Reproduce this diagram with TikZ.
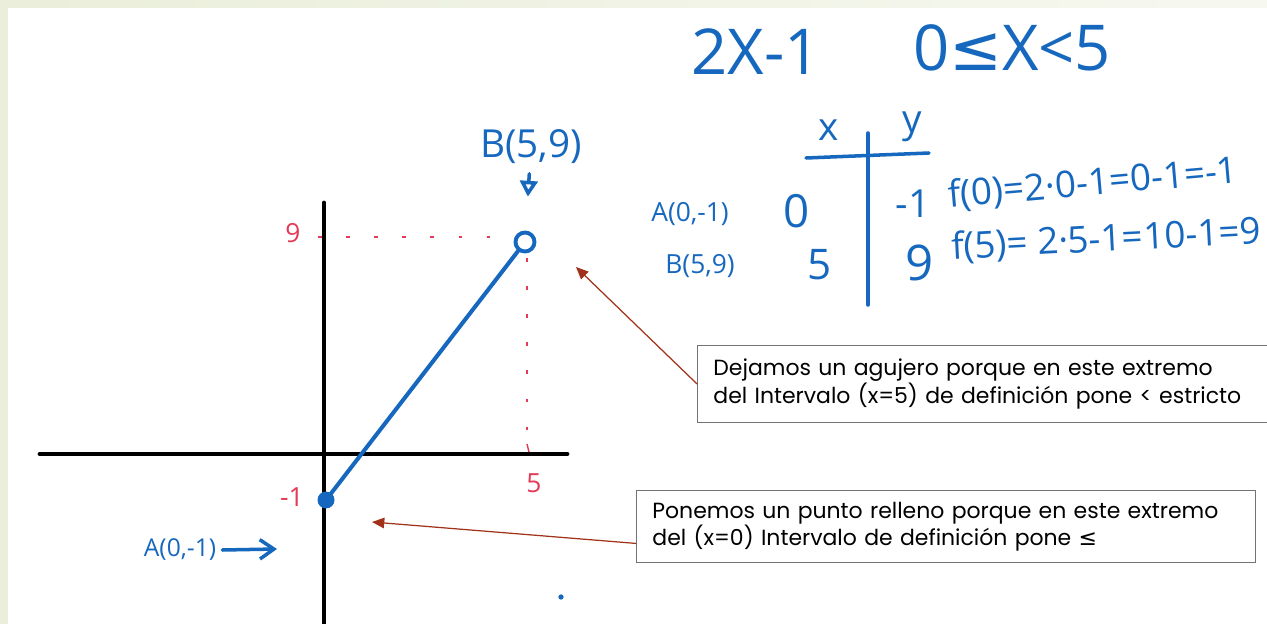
\documentclass[tikz,border=0pt]{standalone}
\usepackage{fontspec}
\setmainfont{Poppins}
\newfontfamily\hand{Open Sans}
\newfontfamily\symb{DejaVu Sans}
\usetikzlibrary{arrows.meta,positioning}
\definecolor{pen}{RGB}{22,104,190}
\definecolor{redpen}{RGB}{228,58,86}
\definecolor{calloutred}{RGB}{160,50,25}
\definecolor{slidebg}{RGB}{234,238,218}
\tikzset{
  axis/.style={line width=2.8pt, line cap=round},
  penline/.style={pen, line width=2pt, line cap=round},
  guide/.style={redpen, line width=0.8pt, dash pattern=on 2pt off 14pt},
  handtxt/.style={pen, font=\hand},
  redtxt/.style={redpen, font=\hand\fontsize{15}{15}\selectfont},
  notebox/.style={draw=black!55, line width=0.5pt, anchor=north west, align=left,
    inner xsep=0.32cm, font=\fontsize{12.5}{15.5}\selectfont},
  callarrow/.style={calloutred, line width=0.7pt, -{Triangle[length=7pt,width=6pt]}}
}
\begin{document}
\begin{tikzpicture}[x=0.02cm,y=-0.02cm]
        \useasboundingbox (0,0) rectangle (1267,624);
        % fondo de la diapositiva
        \fill[slidebg] (0,0) rectangle (1267,624);
        \shade[left color=slidebg, right color=slidebg!40] (8,0) rectangle (1267,8);
        \fill[white] (8,8) rectangle (1267,624);

        \coordinate (O) at (324,454);
        \draw[axis] (40,454) -- (567,454);
        \draw[axis] (324,203) -- (324,624);

        % lineas de referencia
        \draw[guide] (318,237) -- (515,237);
        \draw[guide] (527,258) -- (527,452);
        \draw[redpen, line width=0.8pt] (527,444) -- (529,452);

        \node[redtxt] (nine) at (293,233) {9};
        \node[redtxt] (minusone) at (292,497) {-1};
        \node[redtxt] (five) at (534,483) {5};

        % extremos del segmento
        \node[circle, draw=pen, line width=2.2pt, minimum size=0.38cm, inner sep=0pt] (B) at (525,242) {};
        \node[circle, fill=pen, minimum size=0.34cm, inner sep=0pt] (A) at (326,500) {};
        \draw[penline, line width=2.3pt] (A.center) -- (B);

        \node[handtxt, font=\hand\fontsize{22}{22}\selectfont] (lblB) at (531,147) {B(5,9)};
        \draw[penline, shorten <=2pt, shorten >=0.68cm, -{Triangle[open,length=9pt,width=10pt]}] (lblB) -- (B);

        \node[handtxt, font=\hand\fontsize{14}{14}\selectfont] (lblA) at (180,550) {A(0,-1)};
        \coordinate (aTip) at (277,549);
        \draw[penline, -{Straight Barb[length=8pt,width=11pt]}] (lblA.east) -- (aTip);

        % funcion e intervalo
        \node[handtxt, font=\hand\fontsize{36}{36}\selectfont] (fx) at (756,52) {2X-1};
        \node[handtxt, font=\hand\fontsize{36}{36}\selectfont] (dom) at (1012,48) {0{\symb≤}X<5};

        % tabla de valores
        \node[handtxt, font=\hand\fontsize{22}{22}\selectfont] (colx) at (829,130) {x};
        \node[handtxt, font=\hand\fontsize{22}{22}\selectfont] (coly) at (912,127) {y};
        \coordinate (hl) at (806,158);
        \coordinate (hr) at (929,153);
        \coordinate (vt) at (868,133);
        \coordinate (vb) at (868,305);
        \draw[penline] (hl) -- (hr);
        \draw[penline] (vt) -- (vb);

        \node[handtxt, font=\hand\fontsize{15}{15}\selectfont] (rowA) at (690,214) {A(0,-1)};
        \node[handtxt, font=\hand\fontsize{26}{26}\selectfont] (x0) at (797,211) {0};
        \node[handtxt, font=\hand\fontsize{22}{22}\selectfont] (y0) at (913,204) {-1};
        \node[handtxt, font=\hand\fontsize{15}{15}\selectfont] (rowB) at (700,266) {B(5,9)};
        \node[handtxt, font=\hand\fontsize{24}{24}\selectfont] (x5) at (820,265) {5};
        \node[handtxt, font=\hand\fontsize{28}{28}\selectfont] (y9) at (920,263) {9};

        \node[handtxt, font=\hand\fontsize{21}{21}\selectfont, rotate=5] (f0) at (1093,184) {f(0)=2·0-1=0-1=-1};
        \node[handtxt, font=\hand\fontsize{21}{21}\selectfont, rotate=3] (f5) at (1106,240) {f(5)= 2·5-1=10-1=9};

        % notas
        \node[notebox, minimum width=11.7cm, minimum height=1.54cm, text width=11.06cm] (holeNote) at (697,345)
          {Dejamos un agujero porque en este extremo\\del Intervalo (x=5) de definición pone < estricto};
        \node[notebox, minimum width=12.38cm, minimum height=1.44cm, text width=11.74cm] (dotNote) at (636,490)
          {Ponemos un punto relleno porque en este extremo\\del (x=0) Intervalo de definición pone {\symb≤}};

        \coordinate (holeTip) at (576,267);
        \coordinate (dotTip) at (372,522);
        \draw[callarrow] (holeNote.west) -- (holeTip);
        \draw[callarrow] ([yshift=-0.34cm]dotNote.west) -- (dotTip);

        \fill[pen] (561,597) circle (1.5pt);
    \end{tikzpicture}
\end{document}
